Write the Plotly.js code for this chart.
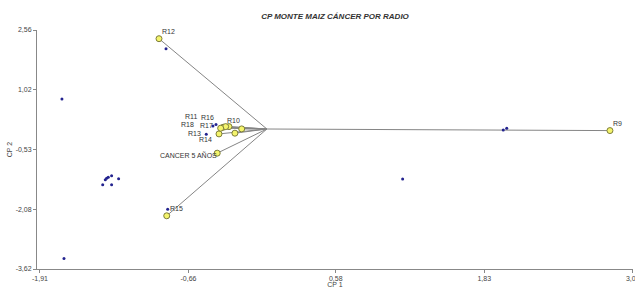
<!DOCTYPE html>
<html>
<head>
<meta charset="utf-8">
<script src="https://cdn.plot.ly/plotly-3.0.1.min.js"></script>
<style>html,body{margin:0;padding:0;background:#fff;}#chart{width:635px;height:288px;}</style>
</head>
<body>
<div id="chart"></div>
<script>
// Variable vectors (end points, origin at 0,0)
const vecLabels = ['R9','R10','R11','R12','R13','R14','R15','R16','R17','R18','CANCER 5 AÑOS'];
const vecX = [2.888, -0.212, -0.367, -0.908, -0.403, -0.269, -0.843, -0.319, -0.347, -0.389, -0.418];
const vecY = [-0.041, 0.003, 0.046, 2.335, -0.127, -0.108, -2.244, 0.062, 0.062, 0.021, -0.625];

// Observations (scores)
const obsX = [-0.849, -1.725, -1.708, -1.382, -1.360, -1.349, -1.335, -1.307, -1.307, -1.248, -0.835, -0.510, -0.454, -0.428, 1.990, 2.019, 1.143];
const obsY = [2.076, 0.777, -3.347, -1.444, -1.315, -1.271, -1.245, -1.211, -1.444, -1.289, -2.072, -0.134, 0.080, 0.119, -0.023, 0.021, -1.296];

// Axis ticks
const xTickVals = [-1.91, -0.66, 0.58, 1.83, 3.08];
const xTickText = ['-1,91', '-0,66', '0,58', '1,83', '3,08'];
const yTickVals = [-3.62, -2.08, -0.53, 1.02, 2.56];
const yTickText = ['-3,62', '-2,08', '-0,53', '1,02', '2,56'];

// Label pixel offsets (style only)
const labelDX = [8, -8, -32, 9, -25, -29, 10, -21, -19, -33, -29];
const labelDY = [-7, -8, -11, -7, 0, 6, -7, -9, -1, -4, 2];

const lx = [], ly = [];
vecX.forEach((x, i) => { lx.push(0, x, null); ly.push(0, vecY[i], null); });

const traces = [
  {x: lx, y: ly, mode: 'lines', type: 'scatter', line: {color: '#858585', width: 1}, hoverinfo: 'skip'},
  {x: obsX, y: obsY, mode: 'markers', type: 'scatter', marker: {color: '#23238f', size: 3}},
  {x: vecX, y: vecY, mode: 'markers', type: 'scatter', marker: {color: '#f4f46c', size: 6, line: {color: '#7d7d3a', width: 1}}}
];

const annotations = vecLabels.map((t, i) => ({
  x: vecX[i], y: vecY[i], xref: 'x', yref: 'y', text: t, showarrow: false,
  xshift: labelDX[i], yshift: -labelDY[i],
  font: {family: 'Liberation Sans, Arial, sans-serif', size: 7, color: '#333'}
}));

const layout = {
  width: 635, height: 288,
  margin: {l: 37, r: 2, t: 30, b: 19},
  paper_bgcolor: '#fff', plot_bgcolor: '#fff',
  showlegend: false,
  font: {family: 'Liberation Sans, Arial, sans-serif', size: 7, color: '#444'},
  title: {text: 'CP MONTE MAIZ CÁNCER POR RADIO', x: 0.5, xref: 'paper', xanchor: 'center', y: 0.945, yref: 'container', yanchor: 'middle',
          font: {family: 'Liberation Sans, Arial, sans-serif', size: 8, color: '#333', weight: 'bold', style: 'italic'}},
  xaxis: {range: [-1.935, 3.082], tickvals: xTickVals, ticktext: xTickText, showgrid: false, zeroline: false,
          showline: true, linecolor: '#888', linewidth: 1, ticks: 'outside', ticklen: 3, tickcolor: '#888',
          tickfont: {size: 7, color: '#444'}, automargin: false, ticklabeloverflow: 'allow',
          title: {text: 'CP 1', standoff: 0, font: {size: 7, color: '#444'}}},
  yaxis: {range: [-3.62, 2.56], tickvals: yTickVals, ticktext: yTickText, showgrid: false, zeroline: false,
          showline: true, linecolor: '#888', linewidth: 1, ticks: 'outside', ticklen: 3, tickcolor: '#888',
          tickfont: {size: 7, color: '#444'}, automargin: false,
          title: {text: 'CP 2', standoff: 2, font: {size: 7, color: '#444'}}},
  annotations: annotations
};

Plotly.newPlot('chart', traces, layout, {staticPlot: true, displayModeBar: false});
</script>
</body>
</html>
